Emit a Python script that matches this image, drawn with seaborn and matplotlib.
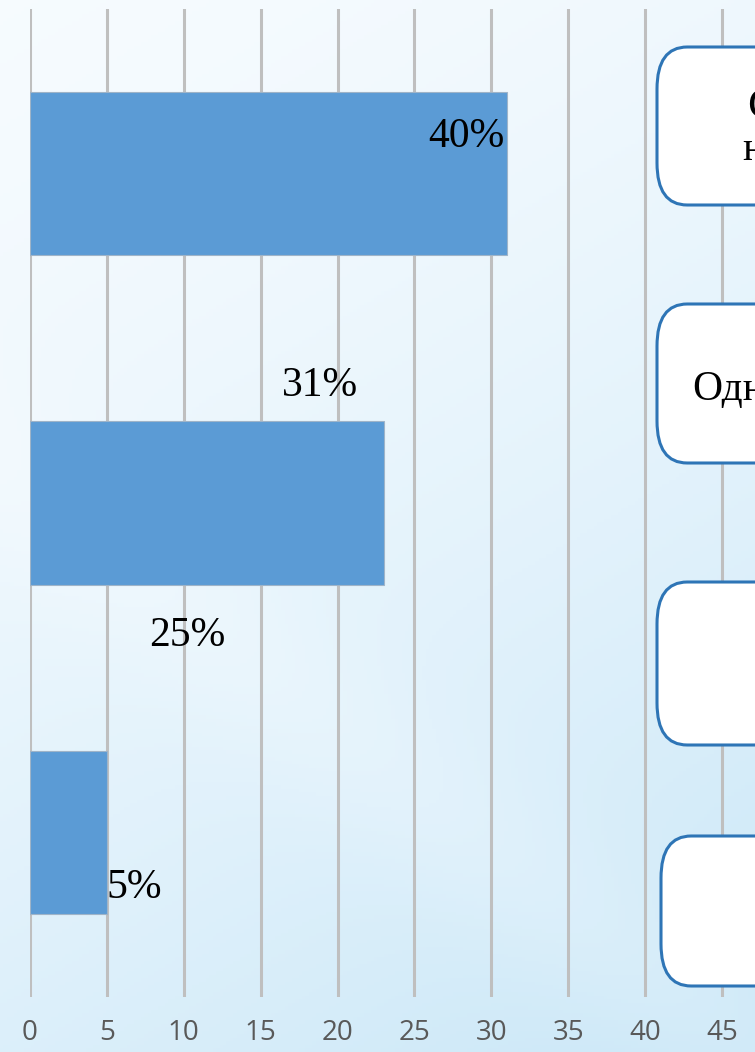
import numpy as np
import pandas as pd
import matplotlib.pyplot as plt
import seaborn as sns
from matplotlib.patches import FancyBboxPatch

# waarden van de balken (van boven naar beneden)
categories = ["1", "2", "3"]
values = [31, 23, 5]

# losse procentlabels zoals in de dia
pct_labels = ["40%", "31%", "25%", "5%"]
pct_x = [28.35, 18.85, 10.25, 6.75]
pct_y = [-0.08, 0.675, 1.435, 2.20]

x_ticks = [0, 5, 10, 15, 20, 25, 30, 35, 40, 45]

df = pd.DataFrame({"cat": categories, "val": values})

W, H = 755, 1052
fig = plt.figure(figsize=(W / 100, H / 100), dpi=100)

# achtergrond: lichtblauwe gradient
bg = fig.add_axes([0, 0, 1, 1], zorder=0)
yy, xx = np.mgrid[0:1:300j, 0:1:220j]
t = 0.3 * xx + 0.7 * yy
t = t - 0.12 * np.exp(-((yy - 0.55 * xx - 0.45) ** 2) / 0.01)
t = np.clip(t, 0, 1) ** 1.5
top = np.array([0.965, 0.985, 0.998])
bot = np.array([0.79, 0.905, 0.97])
img = top[None, None, :] * (1 - t[..., None]) + bot[None, None, :] * t[..., None]
bg.imshow(img, extent=[0, 1, 0, 1], aspect="auto", origin="upper")
bg.set_axis_off()

# hoofdas
ppu = 692 / 45
ax = fig.add_axes([30 / W, (H - 997) / H, (W - 30) / W, (997 - 9) / H], zorder=1)
ax.patch.set_alpha(0)

sns.barplot(data=df, x="val", y="cat", orient="h", color="#5B9BD5",
            width=0.495, saturation=1, edgecolor="#9FB4C8", linewidth=0.8,
            ax=ax, zorder=3)

ax.set_xlim(0, (W - 30) / ppu)
ax.set_ylim(2.5, -0.5)
ax.set_xticks(x_ticks)
ax.set_xticklabels([str(v) for v in x_ticks], fontsize=20, color="#595959",
                   fontfamily="Open Sans")
ax.tick_params(axis="x", length=0, pad=16)
ax.set_yticks([])
ax.set_xlabel("")
ax.set_ylabel("")
ax.grid(axis="x", color="#BFBFBF", linewidth=2.2, zorder=0)
ax.set_axisbelow(True)
for s in ax.spines.values():
    s.set_visible(False)

for lab, lx, ly in zip(pct_labels, pct_x, pct_y):
    ax.text(lx, ly, lab, ha="center", va="baseline", fontsize=30,
            fontfamily="Liberation Serif", color="black", zorder=5)

# afgeronde kaders rechts (grotendeels buiten beeld)
boxes = [(657, 47, 205), (657, 304, 463), (657, 582, 745), (661, 836, 986)]
for bx, btop, bbot in boxes:
    fig.patches.append(FancyBboxPatch(
        (bx / W, (H - bbot) / H), (W + 100 - bx) / W, (bbot - btop) / H,
        boxstyle="round,pad=0,rounding_size=0.04", transform=fig.transFigure,
        facecolor="white", edgecolor="#2E75B6", linewidth=2.2, zorder=4))

fig.text(747 / W, (H - 118) / H, "С", fontsize=32, fontfamily="Liberation Serif",
         ha="left", va="baseline", zorder=6)
fig.text(742 / W, (H - 160) / H, "н", fontsize=30, fontfamily="Liberation Serif",
         ha="left", va="baseline", zorder=6)
fig.text(692 / W, (H - 400) / H, "Одн", fontsize=30, fontfamily="Liberation Serif",
         ha="left", va="baseline", zorder=6)

fig.savefig("out.png", dpi=100)
